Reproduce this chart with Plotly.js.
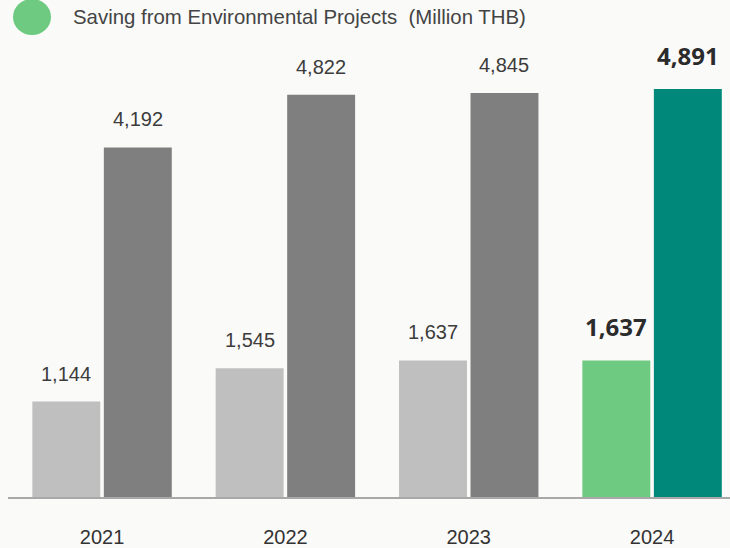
<!DOCTYPE html>
<html>
<head>
<meta charset="utf-8">
<script src="https://cdn.plot.ly/plotly-3.0.1.min.js"></script>
<style>
html,body{margin:0;padding:0;background:#fafaf9;}
#chart{width:730px;height:548px;}
</style>
</head>
<body>
<div id="chart"></div>
<script>
const years = ['2021', '2022', '2023', '2024'];
const seriesA = [1144, 1545, 1637, 1637];
const seriesB = [4192, 4822, 4845, 4891];
const colorsA = ['#bfbfbf', '#bfbfbf', '#bfbfbf', '#6dca80'];
const colorsB = ['#7f7f7f', '#7f7f7f', '#7f7f7f', '#00897a'];
const legendText = 'Saving from Environmental Projects  (Million THB)';

const fmt = v => v.toLocaleString('en-US');
const idx = years.map((_, i) => i);

const traces = [
  {type: 'bar', x: idx, y: seriesA, marker: {color: colorsA}, hoverinfo: 'skip', showlegend: false},
  {type: 'bar', x: idx, y: seriesB, marker: {color: colorsB}, hoverinfo: 'skip', showlegend: false}
];

const off = 0.195;
const annotations = [];
function addLabels(vals, sign) {
  vals.forEach((v, i) => {
    const last = i === years.length - 1;
    annotations.push({
      x: i + sign * off, y: v, xref: 'x', yref: 'y',
      text: last ? '<b>' + fmt(v) + '</b>' : fmt(v),
      showarrow: false, xanchor: 'center', yanchor: 'bottom',
      yshift: last ? 15 : 15,
      font: last ? {family: 'Open Sans, sans-serif', size: 24, color: '#2b2b2b'}
                 : {family: 'Liberation Sans, Arial, sans-serif', size: 20, color: '#3c3c3c'}
    });
  });
}
addLabels(seriesA, -1);
addLabels(seriesB, 1);

annotations.push({
  xref: 'paper', yref: 'paper', x: 0, y: 1, xshift: 63, yshift: 23,
  xanchor: 'left', yanchor: 'middle', showarrow: false,
  text: legendText,
  font: {family: 'Liberation Sans, Arial, sans-serif', size: 20.4, color: '#444444'}
});

const layout = {
  width: 730, height: 548,
  margin: {l: 8, r: 0, t: 40, b: 51},
  paper_bgcolor: '#fafaf9', plot_bgcolor: 'rgba(0,0,0,0)',
  barmode: 'group', bargap: 0.22, bargroupgap: 0.05,
  showlegend: false,
  xaxis: {
    range: [-0.513, 3.425], tickmode: 'array', tickvals: idx, ticktext: years,
    showgrid: false, zeroline: false, showline: true, linecolor: '#a8a8a8', linewidth: 2,
    ticks: 'outside', ticklen: 21, tickcolor: 'rgba(0,0,0,0)',
    tickfont: {family: 'Liberation Sans, Arial, sans-serif', size: 20, color: '#333333'},
    fixedrange: true
  },
  yaxis: {range: [0, 5480], visible: false, showgrid: false, zeroline: false, fixedrange: true},
  shapes: [
    {type: 'circle', xref: 'paper', yref: 'paper', layer: 'below',
     x0: 1.0, x1: 1.9, y0: 0.55, y1: 1.6, fillcolor: 'rgba(255,255,255,0.45)', line: {width: 0}},
    {type: 'circle', xref: 'paper', yref: 'paper', xsizemode: 'pixel', ysizemode: 'pixel',
     xanchor: 0, yanchor: 1, x0: 5, x1: 43, y0: 5, y1: 41,
     fillcolor: '#6dca80', line: {width: 0}}
  ],
  annotations: annotations,
  hovermode: false
};

Plotly.newPlot('chart', traces, layout, {displayModeBar: false, staticPlot: true});
</script>
</body>
</html>
